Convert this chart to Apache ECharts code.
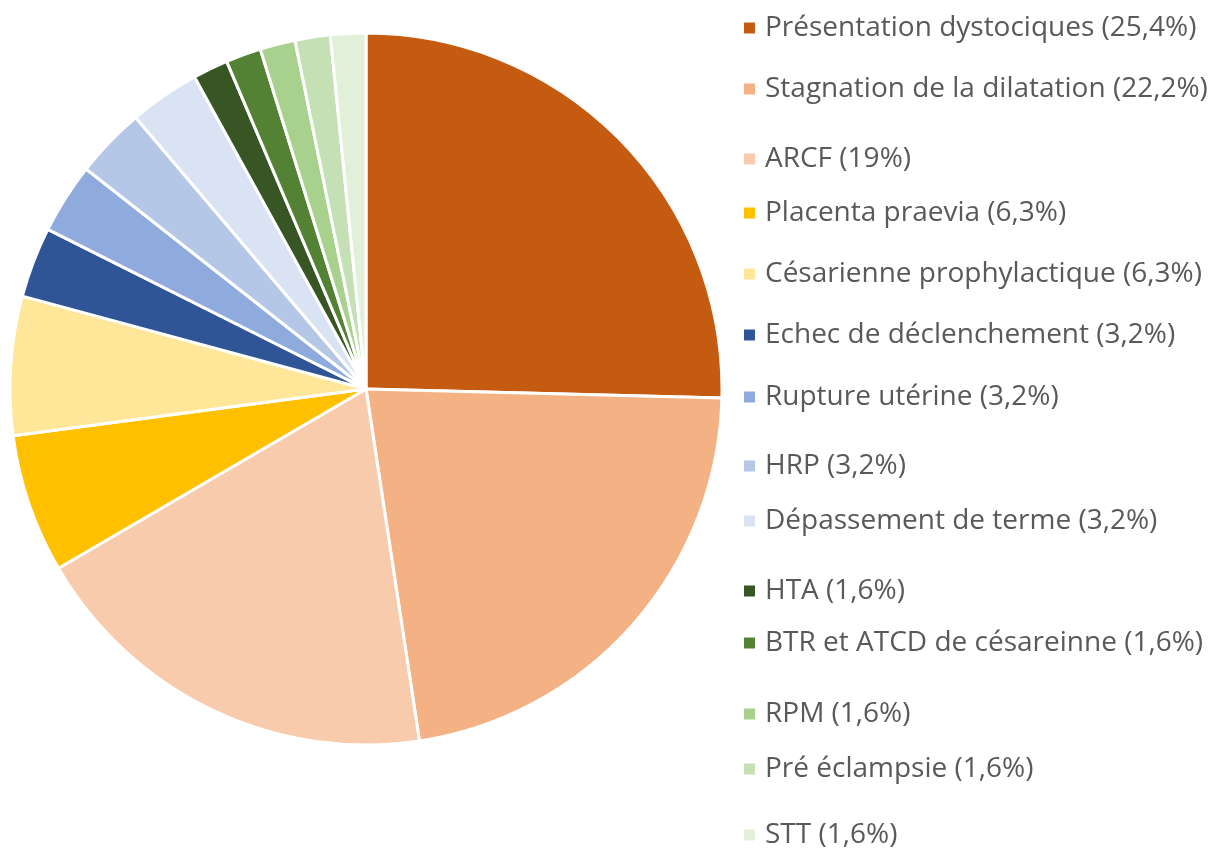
<!DOCTYPE html>
<html><head><meta charset="utf-8">
<script src="https://cdn.jsdelivr.net/npm/echarts@6/dist/echarts.min.js"></script>
<style>html,body{margin:0;padding:0;background:#fff}#c{width:1211px;height:850px}</style>
</head><body><div id="c"></div>
<script>
const categories = ["Présentation dystociques (25,4%)","Stagnation de la dilatation (22,2%)","ARCF (19%)","Placenta praevia (6,3%)","Césarienne prophylactique (6,3%)","Echec de déclenchement (3,2%)","Rupture utérine (3,2%)","HRP (3,2%)","Dépassement de terme (3,2%)","HTA (1,6%)","BTR et ATCD de césareinne (1,6%)","RPM (1,6%)","Pré éclampsie (1,6%)","STT (1,6%)"];
const values = [25.4,22.2,19,6.3,6.3,3.2,3.2,3.2,3.2,1.6,1.6,1.6,1.6,1.6];
const colors = ["#C55A11","#F4B183","#F8CBAD","#FFC000","#FFE699","#2F5597","#8FAADC","#B4C7E7","#DAE3F3","#375623","#548235","#A9D18E","#C5E0B4","#E2F0D9"];
const legendCenters = [28,89,159,213,274,335,397,466,521,591,643,714,769,835];

const legends = categories.map((name,i)=>({
  data:[name], left:742, top:legendCenters[i]-17, orient:'vertical', padding:0,
  icon:'rect', itemWidth:13, itemHeight:13, itemGap:0,
  selectedMode:false,
  textStyle:{fontFamily:'Open Sans', fontSize:28, color:'#595959', lineHeight:34, padding:[0,0,0,4]}
}));

const chart = echarts.init(document.getElementById('c'));
chart.setOption({
  animation:false,
  color:colors,
  legend:legends,
  series:[{
    type:'pie', center:[366,389], radius:[0,356], startAngle:90, clockwise:true,
    label:{show:false}, labelLine:{show:false},
    itemStyle:{borderColor:'#fff', borderWidth:3},
    data:categories.map((n,i)=>({name:n, value:values[i]}))
  }]
});
</script></body></html>
